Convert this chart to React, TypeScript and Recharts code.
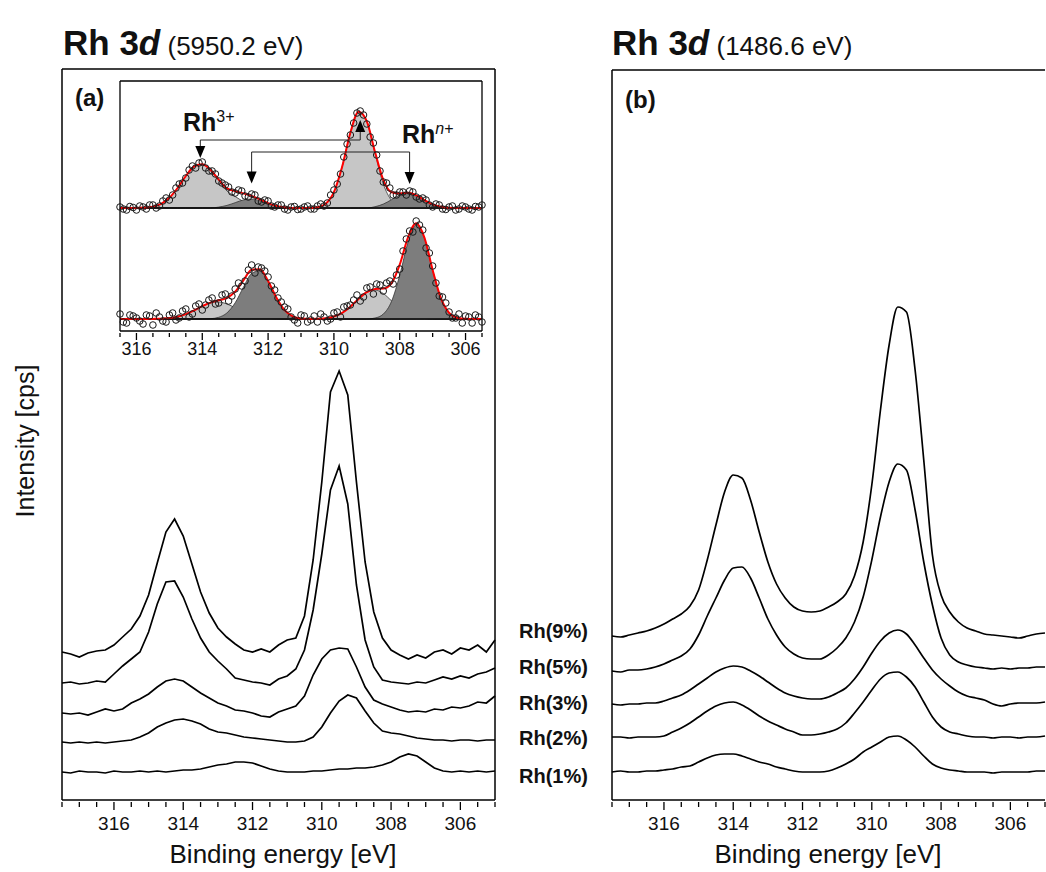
import React from "react";
import {
  LineChart,
  Line,
  XAxis,
  YAxis,
  ReferenceLine,
  ReferenceDot,
  ComposedChart,
  Area,
  Scatter,
} from "recharts";

const FONT = "Arial, 'Liberation Sans', sans-serif";

// binding energy grid of the stacked spectra (eV)
const energy = [
  317.5, 317.25, 317, 316.75, 316.5, 316.25, 316, 315.75, 315.5, 315.25, 315,
  314.75, 314.5, 314.25, 314, 313.75, 313.5, 313.25, 313, 312.75, 312.5,
  312.25, 312, 311.75, 311.5, 311.25, 311, 310.75, 310.5, 310.25, 310, 309.75,
  309.5, 309.25, 309, 308.75, 308.5, 308.25, 308, 307.75, 307.5, 307.25, 307,
  306.75, 306.5, 306.25, 306, 305.75, 305.5, 305.25, 305,
];

// (a) hard X-ray, 5950.2 eV -- offset intensities
const hardRh1 = [28, 27, 29, 28, 28, 27, 29, 28, 28, 29, 28, 29, 28, 29, 30, 30, 31, 33, 35, 36, 38, 38, 37, 34, 31, 29, 28, 28, 28, 29, 29, 30, 31, 31, 32, 32, 33, 35, 38, 43, 46, 44, 38, 32, 29, 28, 29, 28, 29, 28, 29];
const hardRh2 = [58, 57, 58, 57, 58, 57, 58, 59, 60, 63, 67, 73, 77, 80, 81, 79, 76, 71, 68, 67, 65, 63, 62, 61, 60, 59, 58, 58, 59, 63, 73, 87, 99, 105, 102, 89, 77, 69, 67, 66, 64, 62, 61, 60, 60, 59, 60, 60, 59, 60, 60];
const hardRh3 = [87, 86, 87, 85, 88, 91, 89, 91, 97, 101, 106, 113, 119, 121, 119, 113, 107, 102, 97, 94, 90, 89, 87, 84, 83, 88, 91, 94, 104, 125, 141, 150, 152, 151, 133, 113, 100, 96, 93, 90, 88, 89, 88, 91, 90, 93, 92, 94, 98, 97, 104];
const hardRh5 = [117, 118, 116, 117, 119, 118, 126, 134, 141, 148, 168, 196, 218, 219, 203, 181, 162, 148, 139, 131, 122, 120, 118, 117, 115, 121, 124, 131, 150, 190, 246, 310, 334, 296, 215, 160, 133, 120, 118, 117, 116, 118, 117, 120, 123, 121, 124, 122, 126, 128, 132];
const hardRh9 = [148, 146, 143, 147, 149, 150, 155, 163, 171, 184, 205, 237, 268, 281, 264, 236, 208, 187, 172, 163, 156, 150, 148, 151, 148, 155, 160, 162, 184, 240, 318, 408, 429, 405, 318, 238, 188, 162, 150, 145, 141, 145, 142, 148, 150, 146, 152, 150, 155, 148, 160];

// (b) soft X-ray, 1486.6 eV -- offset intensities
const softRh1 = [28, 29, 28, 28, 29, 29, 30, 31, 33, 34, 38, 42, 45, 46, 46, 44, 41, 38, 36, 33, 31, 29, 28, 28, 28, 29, 32, 36, 41, 48, 53, 58, 63, 64, 60, 53, 44, 36, 32, 30, 29, 28, 28, 28, 27, 28, 28, 28, 28, 29, 29];
const softRh2 = [63, 63, 62, 63, 63, 63, 64, 68, 72, 77, 83, 89, 94, 97, 98, 95, 90, 84, 79, 75, 71, 68, 65, 65, 66, 68, 71, 77, 87, 98, 110, 121, 127, 128, 123, 113, 98, 83, 73, 68, 66, 64, 63, 63, 62, 63, 63, 62, 63, 63, 64];
const softRh3 = [96, 95, 96, 96, 97, 97, 99, 102, 105, 110, 116, 122, 128, 132, 134, 133, 129, 124, 118, 112, 107, 104, 102, 101, 101, 103, 107, 112, 121, 133, 147, 159, 167, 170, 166, 155, 142, 130, 121, 114, 108, 104, 102, 100, 96, 94, 96, 97, 97, 97, 98];
const softRh5 = [129, 128, 130, 130, 131, 133, 136, 140, 144, 151, 165, 184, 202, 220, 232, 233, 222, 202, 181, 165, 153, 146, 142, 141, 141, 145, 152, 162, 178, 203, 240, 283, 318, 336, 330, 290, 238, 195, 162, 145, 138, 135, 133, 132, 131, 132, 131, 132, 132, 133, 133];
const softRh9 = [164, 163, 165, 167, 169, 172, 176, 181, 186, 194, 210, 240, 275, 308, 325, 322, 300, 268, 238, 216, 202, 193, 189, 188, 189, 193, 198, 206, 224, 258, 315, 390, 455, 493, 488, 430, 340, 245, 205, 188, 178, 172, 169, 166, 165, 164, 163, 162, 164, 166, 167];

const sampleLabels = ["Rh(9%)", "Rh(5%)", "Rh(3%)", "Rh(2%)", "Rh(1%)"];

const axisTicks = [305, 305.5, 306, 306.5, 307, 307.5, 308, 308.5, 309, 309.5, 310, 310.5, 311, 311.5, 312, 312.5, 313, 313.5, 314, 314.5, 315, 315.5, 316, 316.5, 317, 317.5];
const insetTicks = [305.5, 306, 306.5, 307, 307.5, 308, 308.5, 309, 309.5, 310, 310.5, 311, 311.5, 312, 312.5, 313, 313.5, 314, 314.5, 315, 315.5, 316, 316.5];

// inset: peak fit components (upper spectrum on 123, lower on 12)
const fitEnergy = [
  316.5, 316.25, 316, 315.75, 315.5, 315.25, 315, 314.75, 314.5, 314.25, 314,
  313.75, 313.5, 313.25, 313, 312.75, 312.5, 312.25, 312, 311.75, 311.5,
  311.25, 311, 310.75, 310.5, 310.25, 310, 309.75, 309.5, 309.25, 309, 308.75,
  308.5, 308.25, 308, 307.75, 307.5, 307.25, 307, 306.75, 306.5, 306.25, 306,
  305.75, 305.5,
];
const topRh3a = [123, 123, 123, 123.4, 124.4, 127.2, 133.2, 143, 155, 164.5, 166.7, 161, 150.5, 140, 134.5, 129.5, 126, 124.3, 123.5, 123.1, 123, 123, 123, 123, 123, 123, 123, 123, 123, 123, 123, 123, 123, 123, 123, 123, 123, 123, 123, 123, 123, 123, 123, 123, 123];
const topRhNa = [123, 123, 123, 123, 123, 123, 123, 123, 123, 123, 123, 123, 123.9, 125.6, 128.3, 131.1, 132, 130.3, 127.4, 125, 123.7, 123.1, 123, 123, 123, 123, 123, 123, 123, 123, 123, 123, 123, 123, 123, 123, 123, 123, 123, 123, 123, 123, 123, 123, 123];
const topRh3b = [123, 123, 123, 123, 123, 123, 123, 123, 123, 123, 123, 123, 123, 123, 123, 123, 123, 123, 123, 123, 123, 123, 123, 123, 123.8, 127.3, 138.8, 164.2, 198.2, 219.3, 209.6, 177.6, 147.2, 130.5, 124.6, 123.2, 123, 123, 123, 123, 123, 123, 123, 123, 123];
const topRhNb = [123, 123, 123, 123, 123, 123, 123, 123, 123, 123, 123, 123, 123, 123, 123, 123, 123, 123, 123, 123, 123, 123, 123, 123, 123, 123, 123, 123, 123, 123, 123, 124.3, 126.9, 131.3, 136, 138, 135.7, 130.9, 126.6, 124.2, 123.3, 123, 123, 123, 123];
const topFit = [123, 123, 123, 123.4, 124.4, 127.2, 133.2, 143, 155, 164.5, 166.7, 161, 151.4, 142.6, 139.8, 137.6, 135, 131.6, 127.9, 125.1, 123.7, 123.1, 123, 123, 123.8, 127.3, 138.8, 164.2, 198.2, 219.3, 209.6, 178.9, 151.1, 138.8, 137.6, 138.2, 135.7, 130.9, 126.6, 124.2, 123.3, 123, 123, 123, 123];
const lowRh3a = [12, 12, 12, 12, 12.1, 12.3, 12.9, 14.3, 16.9, 20.6, 24.8, 28.1, 29, 27, 23.2, 19, 15.7, 13.6, 12.6, 12.2, 12, 12, 12, 12, 12, 12, 12, 12, 12, 12, 12, 12, 12, 12, 12, 12, 12, 12, 12, 12, 12, 12, 12, 12, 12];
const lowRhNa = [12, 12, 12, 12, 12, 12, 12, 12, 12, 12, 12, 12.3, 13.7, 18.1, 28.2, 43.7, 57.6, 60.2, 49.4, 33.4, 20.9, 14.7, 12.6, 12.1, 12, 12, 12, 12, 12, 12, 12, 12, 12, 12, 12, 12, 12, 12, 12, 12, 12, 12, 12, 12, 12];
const lowRh3b = [12, 12, 12, 12, 12, 12, 12, 12, 12, 12, 12, 12, 12, 12, 12, 12, 12, 12, 12, 12, 12, 12, 12, 12, 12.2, 12.8, 14.5, 18.1, 24.3, 32.1, 38.8, 41, 37.5, 30.2, 22.6, 17, 13.9, 12.6, 12.1, 12, 12, 12, 12, 12, 12];
const lowRhNb = [12, 12, 12, 12, 12, 12, 12, 12, 12, 12, 12, 12, 12, 12, 12, 12, 12, 12, 12, 12, 12, 12, 12, 12, 12, 12, 12, 12, 12, 12, 12, 13, 16.9, 29.5, 55.7, 88.4, 105.9, 92.9, 60.9, 32.8, 18.2, 13.3, 12.2, 12, 12];
const lowFit = [12, 12, 12, 12, 12.1, 12.3, 12.9, 14.3, 16.9, 20.6, 24.8, 28.4, 30.7, 33.1, 39.4, 50.7, 61.3, 61.8, 50, 33.6, 20.9, 14.7, 12.6, 12.1, 12.2, 12.8, 14.5, 18.1, 24.3, 32.1, 38.8, 42, 42.4, 47.7, 66.3, 93.4, 107.8, 93.5, 61, 32.8, 18.2, 13.3, 12.2, 12, 12];

// inset: measured points (two interleaved scans)
const pointEnergyA = [
  316.5, 316.3, 316.1, 315.9, 315.7, 315.5, 315.3, 315.1, 314.9, 314.7, 314.5,
  314.3, 314.1, 313.9, 313.7, 313.5, 313.3, 313.1, 312.9, 312.7, 312.5, 312.3,
  312.1, 311.9, 311.7, 311.5, 311.3, 311.1, 310.9, 310.7, 310.5, 310.3, 310.1,
  309.9, 309.7, 309.5, 309.3, 309.1, 308.9, 308.7, 308.5, 308.3, 308.1, 307.9,
  307.7, 307.5, 307.3, 307.1, 306.9, 306.7, 306.5, 306.3, 306.1, 305.9, 305.7,
  305.5,
];
const pointsTopA = [124, 121, 123.5, 125, 122, 126, 125, 133, 136, 147, 153, 165, 168, 163, 160, 150, 146, 139, 141, 135, 137, 130, 131, 125, 126, 122, 124, 121.5, 124, 122, 125, 125, 136, 147, 174, 196, 218, 216, 194, 176, 149, 143, 136, 139, 140, 134, 133, 126, 127, 122, 124, 121, 125, 122, 124.5, 126];
const pointsLowA = [17, 8, 15, 10, 16, 6, 14, 9, 18, 13, 22, 17, 27, 26, 33, 28, 37, 35, 48, 50, 66, 64, 60, 45, 33, 24, 14, 8, 15, 11, 9, 14, 12, 19, 24, 26, 36, 34, 44, 47, 40, 50, 56, 80, 100, 110, 101, 78, 48, 34, 19, 13, 8, 14, 16, 9];
const pointEnergyB = [
  316.4, 316.2, 316, 315.8, 315.6, 315.4, 315.2, 315, 314.8, 314.6, 314.4,
  314.2, 314, 313.8, 313.6, 313.4, 313.2, 313, 312.8, 312.6, 312.4, 312.2,
  312, 311.8, 311.6, 311.4, 311.2, 311, 310.8, 310.6, 310.4, 310.2, 310,
  309.8, 309.6, 309.4, 309.2, 309, 308.8, 308.6, 308.4, 308.2, 308, 307.8,
  307.6, 307.4, 307.2, 307, 306.8, 306.6, 306.4, 306.2, 306, 305.8, 305.6,
];
const pointsTopB = [122, 124.5, 121, 124, 126, 123, 130, 131, 143, 148, 161, 163, 169, 160, 157, 148, 144, 138, 140, 134, 136, 129, 130, 124, 126, 121, 124.5, 122, 125, 122, 127, 128, 141, 157, 187, 208, 220, 207, 188, 160, 148, 136, 139, 136, 139, 132, 131, 124, 126, 121.5, 125, 122, 124, 121, 124];
const pointsLowB = [9, 16, 13, 7, 15, 18, 10, 16, 11, 20, 14, 25, 21, 31, 27, 36, 30, 42, 45, 61, 58, 63, 54, 41, 29, 22, 11, 16, 9, 15, 17, 10, 18, 14, 25, 31, 30, 43, 37, 46, 48, 47, 62, 92, 99, 106, 83, 65, 35, 28, 13, 17, 15, 8, 14];

const LIGHT = "#c6c6c6";
const DARK = "#7d7d7d";

function EnergyTick(props: any) {
  const { x, y, payload, long, short, labelDy, fontSize } = props;
  const v = Number(payload.value);
  const major = Number.isInteger(v) && v % 2 === 0;
  return (
    <g>
      <line x1={x} x2={x} y1={y} y2={y + (major ? long : short)} stroke="#000" strokeWidth={1.3} />
      {major ? (
        <text x={x} y={y + labelDy} textAnchor="middle" fontSize={fontSize} fontFamily={FONT} fill="#111">
          {v}
        </text>
      ) : null}
    </g>
  );
}

const arrowDown = (p: any) => (
  <path d={`M${p.cx - 5},${p.cy - 12} L${p.cx + 5},${p.cy - 12} L${p.cx},${p.cy} Z`} fill="#000" />
);
const arrowUp = (p: any) => (
  <path d={`M${p.cx - 5},${p.cy + 12} L${p.cx + 5},${p.cy + 12} L${p.cx},${p.cy} Z`} fill="#000" />
);
const ring = (p: any) => (
  <circle cx={p.cx} cy={p.cy} r={3.3} fill="none" stroke="#1a1a1a" strokeWidth={1} />
);

const seriesKeys = ["rh1", "rh2", "rh3", "rh5", "rh9"];

function SpectraPanel({ rows, width, margin, yMax, closed, curve }: any) {
  return (
    <LineChart width={width} height={872} data={rows} margin={margin}>
      <XAxis
        type="number"
        dataKey="e"
        domain={[305, 317.5]}
        reversed
        ticks={axisTicks}
        interval={0}
        tickSize={0}
        tickLine={false}
        tick={<EnergyTick long={8} short={5} labelDy={28} fontSize={19} />}
        axisLine={{ stroke: "#000", strokeWidth: 1.5 }}
        height={40}
      />
      <YAxis hide domain={[0, yMax]} />
      <ReferenceLine x={317.5} stroke="#000" strokeWidth={1.5} ifOverflow="visible" />
      <ReferenceLine y={yMax} stroke="#000" strokeWidth={1.5} ifOverflow="visible" />
      {closed ? <ReferenceLine x={305} stroke="#000" strokeWidth={1.5} ifOverflow="visible" /> : null}
      {seriesKeys.map((k) => (
        <Line
          key={k}
          dataKey={k}
          type={curve}
          stroke="#000"
          strokeWidth={1.7}
          dot={false}
          isAnimationActive={false}
        />
      ))}
    </LineChart>
  );
}

export default function App() {
  const hardRows = energy.map((e, i) => ({
    e,
    rh1: hardRh1[i],
    rh2: hardRh2[i],
    rh3: hardRh3[i],
    rh5: hardRh5[i],
    rh9: hardRh9[i],
  }));
  const softRows = energy.map((e, i) => ({
    e,
    rh1: softRh1[i],
    rh2: softRh2[i],
    rh3: softRh3[i],
    rh5: softRh5[i],
    rh9: softRh9[i],
  }));
  const fitRows = fitEnergy.map((e, i) => ({
    e,
    t3a: topRh3a[i],
    tNa: topRhNa[i],
    t3b: topRh3b[i],
    tNb: topRhNb[i],
    tFit: topFit[i],
    l3a: lowRh3a[i],
    lNa: lowRhNa[i],
    l3b: lowRh3b[i],
    lNb: lowRhNb[i],
    lFit: lowFit[i],
  }));
  const topPts = [
    ...pointEnergyA.map((e, i) => ({ e, v: pointsTopA[i] })),
    ...pointEnergyB.map((e, i) => ({ e, v: pointsTopB[i] })),
  ];
  const lowPts = [
    ...pointEnergyA.map((e, i) => ({ e, v: pointsLowA[i] })),
    ...pointEnergyB.map((e, i) => ({ e, v: pointsLowB[i] })),
  ];

  const labelTops = [621, 657, 693, 728, 766];

  const comp = (key: string, base: number, fill: string) => (
    <Area
      key={key}
      dataKey={key}
      type="monotone"
      baseValue={base}
      fill={fill}
      fillOpacity={1}
      stroke="#333"
      strokeWidth={0.8}
      isAnimationActive={false}
    />
  );

  return (
    <div
      style={{
        position: "absolute",
        left: 0,
        top: 0,
        width: 1046,
        height: 872,
        background: "#fff",
        overflow: "hidden",
        fontFamily: FONT,
        color: "#111",
      }}
    >
      <div style={{ position: "absolute", left: 0, top: 0 }}>
        <SpectraPanel rows={hardRows} width={520} margin={{ top: 69, right: 25, bottom: 32, left: 62 }} yMax={731} closed curve="linear" />
      </div>
      <div style={{ position: "absolute", left: 540, top: 0 }}>
        <SpectraPanel rows={softRows} width={506} margin={{ top: 70, right: 1, bottom: 32, left: 72 }} yMax={730} closed={false} curve="monotone" />
      </div>

      {/* inset of panel (a) */}
      <div style={{ position: "absolute", left: 100, top: 60 }}>
        <ComposedChart width={400} height={320} data={fitRows} margin={{ top: 21, right: 18, bottom: 19, left: 20 }}>
          <XAxis
            type="number"
            dataKey="e"
            domain={[305.5, 316.5]}
            reversed
            ticks={insetTicks}
            interval={0}
            tickSize={0}
            tickLine={false}
            tick={<EnergyTick long={7} short={4} labelDy={22} fontSize={18} />}
            axisLine={{ stroke: "#000", strokeWidth: 1.3 }}
            height={30}
          />
          <YAxis hide domain={[0, 250]} />
          {comp("t3a", 123, LIGHT)}
          {comp("t3b", 123, LIGHT)}
          {comp("tNa", 123, DARK)}
          {comp("tNb", 123, DARK)}
          {comp("l3a", 12, LIGHT)}
          {comp("l3b", 12, LIGHT)}
          {comp("lNa", 12, DARK)}
          {comp("lNb", 12, DARK)}
          <ReferenceLine y={123} stroke="#000" strokeWidth={1.5} ifOverflow="visible" />
          <ReferenceLine y={12} stroke="#000" strokeWidth={1.5} ifOverflow="visible" />
          <Scatter data={topPts} dataKey="v" shape={ring} isAnimationActive={false} />
          <Scatter data={lowPts} dataKey="v" shape={ring} isAnimationActive={false} />
          <Line dataKey="tFit" type="monotone" stroke="#ff0000" strokeWidth={2} dot={false} isAnimationActive={false} />
          <Line dataKey="lFit" type="monotone" stroke="#ff0000" strokeWidth={2} dot={false} isAnimationActive={false} />
          {/* Rh3+ doublet bracket */}
          <ReferenceLine segment={[{ x: 314.06, y: 191 }, { x: 309.2, y: 191 }]} stroke="#222" strokeWidth={1} ifOverflow="visible" />
          <ReferenceLine segment={[{ x: 314.06, y: 191 }, { x: 314.06, y: 180 }]} stroke="#222" strokeWidth={1} ifOverflow="visible" />
          <ReferenceLine segment={[{ x: 309.2, y: 191 }, { x: 309.2, y: 203 }]} stroke="#222" strokeWidth={1} ifOverflow="visible" />
          <ReferenceDot x={314.06} y={173} r={0} shape={arrowDown} ifOverflow="visible" />
          <ReferenceDot x={309.2} y={211} r={0} shape={arrowUp} ifOverflow="visible" />
          {/* Rhn+ doublet bracket */}
          <ReferenceLine segment={[{ x: 312.5, y: 179 }, { x: 307.7, y: 179 }]} stroke="#222" strokeWidth={1} ifOverflow="visible" />
          <ReferenceLine segment={[{ x: 312.5, y: 179 }, { x: 312.5, y: 155 }]} stroke="#222" strokeWidth={1} ifOverflow="visible" />
          <ReferenceLine segment={[{ x: 307.7, y: 179 }, { x: 307.7, y: 155 }]} stroke="#222" strokeWidth={1} ifOverflow="visible" />
          <ReferenceDot x={312.5} y={147.5} r={0} shape={arrowDown} ifOverflow="visible" />
          <ReferenceDot x={307.7} y={147} r={0} shape={arrowDown} ifOverflow="visible" />
          {/* frame */}
          <ReferenceLine x={316.5} stroke="#000" strokeWidth={1.3} ifOverflow="visible" />
          <ReferenceLine x={305.5} stroke="#000" strokeWidth={1.3} ifOverflow="visible" />
          <ReferenceLine y={250} stroke="#000" strokeWidth={1.3} ifOverflow="visible" />
        </ComposedChart>
      </div>

      {/* titles */}
      <div style={{ position: "absolute", left: 63, top: 23, fontSize: 35, lineHeight: "40px", whiteSpace: "nowrap" }}>
        <span style={{ fontWeight: 700 }}>Rh 3</span>
        <span style={{ fontWeight: 700, fontStyle: "italic" }}>d</span>
        <span style={{ fontSize: 26 }}> (5950.2 eV)</span>
      </div>
      <div style={{ position: "absolute", left: 612, top: 23, fontSize: 35, lineHeight: "40px", whiteSpace: "nowrap" }}>
        <span style={{ fontWeight: 700 }}>Rh 3</span>
        <span style={{ fontWeight: 700, fontStyle: "italic" }}>d</span>
        <span style={{ fontSize: 26 }}> (1486.6 eV)</span>
      </div>

      <div style={{ position: "absolute", left: 75, top: 86, fontSize: 24, lineHeight: "24px", fontWeight: 700 }}>(a)</div>
      <div style={{ position: "absolute", left: 625, top: 88, fontSize: 24, lineHeight: "24px", fontWeight: 700 }}>(b)</div>

      <div style={{ position: "absolute", left: 183, top: 104, fontSize: 25, lineHeight: "25px", fontWeight: 700, whiteSpace: "nowrap" }}>
        Rh<span style={{ fontSize: 16, fontWeight: 400, verticalAlign: "9px" }}>3+</span>
      </div>
      <div style={{ position: "absolute", left: 402, top: 116, fontSize: 25, lineHeight: "25px", fontWeight: 700, whiteSpace: "nowrap" }}>
        Rh<span style={{ fontSize: 16, fontWeight: 400, verticalAlign: "9px" }}>
          <i>n</i>+
        </span>
      </div>

      {sampleLabels.map((t, i) => (
        <div key={t} style={{ position: "absolute", left: 519, top: labelTops[i], fontSize: 20, lineHeight: "20px", fontWeight: 700 }}>
          {t}
        </div>
      ))}

      <div style={{ position: "absolute", left: 129, width: 308, top: 841, fontSize: 26, lineHeight: "26px", textAlign: "center" }}>
        Binding energy [eV]
      </div>
      <div style={{ position: "absolute", left: 674, width: 308, top: 841, fontSize: 26, lineHeight: "26px", textAlign: "center" }}>
        Binding energy [eV]
      </div>
      <div
        style={{
          position: "absolute",
          left: -75,
          top: 426,
          width: 200,
          height: 30,
          fontSize: 25,
          lineHeight: "30px",
          textAlign: "center",
          transform: "rotate(-90deg)",
        }}
      >
        Intensity [cps]
      </div>
    </div>
  );
}
